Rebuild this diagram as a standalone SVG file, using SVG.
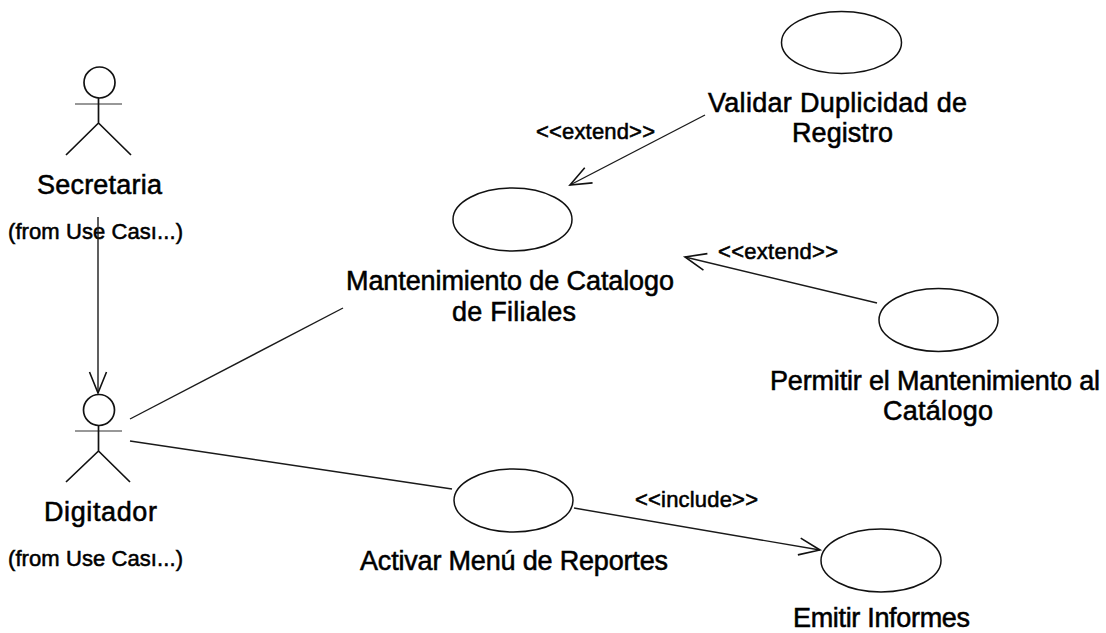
<svg xmlns="http://www.w3.org/2000/svg" width="1106" height="633" viewBox="0 0 1106 633">
<defs>
<marker id="open" markerUnits="userSpaceOnUse" markerWidth="24" markerHeight="22" refX="22" refY="11" orient="auto"><path d="M1 2.5L22 11L1 19.5" fill="none" stroke="#111" stroke-width="1.6"/></marker>
</defs>
<style>
.s{fill:none;stroke:#111;stroke-width:1.7}
.a{fill:none;stroke:#333;stroke-width:1.2}
.c{fill:none;stroke:#1a1a1a;stroke-width:1.4}
.u{fill:#fff;stroke:#111;stroke-width:1.5}
text{font-family:"Liberation Sans",Arial,sans-serif;fill:#000;stroke:#000;stroke-width:.55}
.l{font-size:27px}
.f{font-size:22px}
.e{font-size:22px}
</style>
<rect width="1106" height="633" fill="#fff"/>
<g id="secretaria"><circle class="s" cx="99.500" cy="82.500" r="15.500"/><path class="a" d="M75 104H122"/><path class="s" d="M98.500 98V123M98.500 123L66 155M98.500 123L131 155"/><text class="l" x="37" y="194" textLength="125">Secretaria</text><text class="f" x="8" y="239" textLength="175">(from Use Cası...)</text></g>
<g id="digitador"><circle class="s" cx="99" cy="410" r="15.500"/><path class="a" d="M75 431H122"/><path class="s" d="M98.500 426V451M98.500 451L66 482M98.500 451L130 482"/><text class="l" x="44" y="521" textLength="113">Digitador</text><text class="f" x="8" y="566" textLength="175">(from Use Cası...)</text></g>
<g id="uc-validar"><ellipse class="u" cx="841.500" cy="42.500" rx="60" ry="31"/><text class="l" x="708" y="112" textLength="259">Validar Duplicidad de</text><text class="l" x="792" y="142" textLength="101">Registro</text></g>
<g id="uc-mantenimiento"><ellipse class="u" cx="512.500" cy="219.500" rx="59.500" ry="31.500"/><text class="l" x="346" y="290" textLength="328">Mantenimiento de Catalogo</text><text class="l" x="452" y="321" textLength="124">de Filiales</text></g>
<g id="uc-permitir"><ellipse class="u" cx="938.500" cy="320" rx="59.500" ry="31.500"/><text class="l" x="770" y="390" textLength="330">Permitir el Mantenimiento al</text><text class="l" x="883" y="420" textLength="110">Catálogo</text></g>
<g id="uc-activar"><ellipse class="u" cx="513.500" cy="500.500" rx="59.500" ry="31.500"/><text class="l" x="360" y="570" textLength="308">Activar Menú de Reportes</text></g>
<g id="uc-emitir"><ellipse class="u" cx="881" cy="560.500" rx="60" ry="31.500"/><text class="l" x="793" y="627" textLength="177">Emitir Informes</text></g>
<g id="labels"><text class="e" x="536" y="139" textLength="119">&lt;&lt;extend&gt;&gt;</text><text class="e" x="718" y="259" textLength="120">&lt;&lt;extend&gt;&gt;</text><text class="e" x="635" y="507" textLength="123">&lt;&lt;include&gt;&gt;</text></g>
<g id="connectors">
<path class="c" d="M98 217V393" marker-end="url(#open)"/>
<path class="c" d="M130 419L343 308"/>
<path class="c" d="M130 441L452 489"/>
<path class="c" d="M574 508L820 550" marker-end="url(#open)"/>
<path class="c" d="M705 115L570 185" marker-end="url(#open)"/>
<path class="c" d="M877 303L685 257" marker-end="url(#open)"/>
</g>
</svg>
